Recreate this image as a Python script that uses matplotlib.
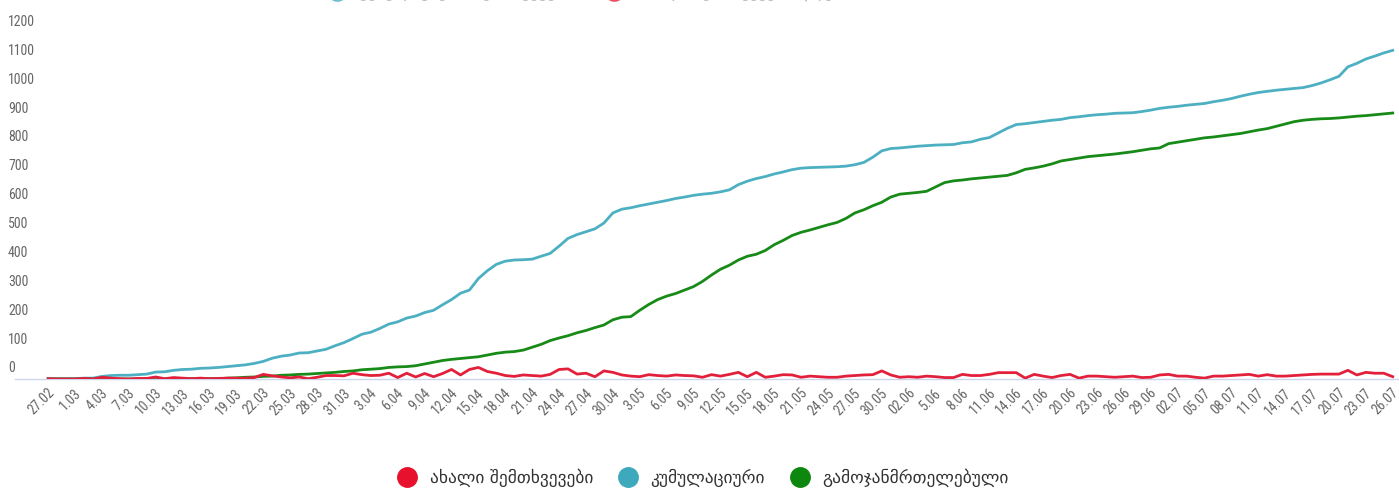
import matplotlib
matplotlib.use("Agg")
import matplotlib.pyplot as plt
from matplotlib.lines import Line2D
from matplotlib.transforms import ScaledTranslation
from matplotlib import font_manager

# Georgia COVID-19, daily series 27.02 - 26.07
new_cases = [1, 0, 0, 0, 2, 0, 6, 3, 1, 0, 2, 2, 7, 1, 5, 3, 1, 3, 1, 2,
             3, 3, 3, 5, 16, 11, 7, 4, 7, 1, 6, 12, 12, 11, 20, 15, 12, 13, 20, 5,
             20, 7, 19, 8, 19, 33, 14, 33, 40, 26, 20, 12, 9, 14, 12, 10, 16, 33, 35, 17,
             20, 8, 28, 23, 14, 10, 8, 15, 12, 10, 14, 12, 11, 6, 15, 10, 16, 23, 8, 23,
             6, 10, 15, 14, 6, 10, 8, 6, 6, 10, 12, 14, 15, 28, 14, 6, 8, 6, 10, 8,
             5, 5, 16, 12, 12, 16, 22, 22, 22, 3, 16, 10, 5, 12, 16, 3, 10, 10, 8, 6,
             8, 10, 5, 6, 14, 16, 10, 10, 6, 3, 10, 10, 12, 14, 16, 10, 15, 10, 10, 12,
             14, 16, 17, 17, 17, 30, 14, 23, 20, 20, 8]

cumulative = [1, 1, 1, 1, 3, 3, 9, 12, 13, 13, 15, 17, 24, 25, 30, 33, 34, 37, 38, 40,
              43, 46, 49, 54, 61, 72, 79, 83, 90, 91, 97, 103, 115, 126, 140, 155, 162, 175, 190, 198,
              211, 218, 230, 238, 257, 275, 297, 308, 348, 375, 397, 408, 412, 413, 415, 425, 435, 460, 487, 500,
              510, 520, 540, 575, 588, 593, 600, 606, 612, 618, 625, 630, 636, 640, 643, 648, 655, 673, 685, 694,
              701, 710, 717, 725, 730, 732, 733, 734, 735, 737, 742, 750, 768, 790, 798, 800, 803, 806, 808, 810,
              811, 812, 818, 821, 830, 836, 852, 868, 881, 884, 888, 892, 896, 899, 905, 908, 912, 915, 917, 920,
              921, 922, 926, 931, 937, 941, 944, 948, 951, 954, 960, 965, 971, 979, 986, 992, 996, 1000, 1003, 1006,
              1009, 1016, 1025, 1036, 1048, 1081, 1093, 1108, 1118, 1129, 1138]

recovered = [0, 0, 0, 0, 0, 0, 0, 0, 0, 0, 0, 0, 0, 0, 0, 0, 1, 1, 1, 1,
             3, 4, 6, 7, 9, 10, 13, 14, 16, 17, 19, 21, 23, 26, 28, 32, 34, 36, 40, 42,
             43, 46, 52, 58, 64, 68, 71, 74, 77, 83, 89, 93, 95, 100, 110, 120, 133, 142, 150, 160,
             168, 178, 187, 205, 214, 216, 238, 258, 275, 287, 296, 308, 320, 338, 360, 380, 394, 412, 425, 432,
             445, 465, 480, 497, 508, 516, 525, 534, 542, 556, 575, 586, 600, 612, 630, 640, 643, 646, 650, 665,
             680, 686, 689, 693, 696, 699, 702, 705, 714, 726, 731, 737, 745, 755, 760, 765, 770, 773, 776, 779,
             783, 787, 792, 797, 800, 815, 820, 825, 830, 835, 838, 842, 846, 850, 856, 862, 867, 875, 883, 891,
             896, 899, 901, 902, 904, 907, 910, 912, 915, 918, 921]

tick_labels = ["27.02", "1.03", "4.03", "7.03", "10.03", "13.03", "16.03", "19.03", "22.03",
               "25.03", "28.03", "31.03", "3.04", "6.04", "9.04", "12.04", "15.04", "18.04",
               "21.04", "24.04", "27.04", "30.04", "3.05", "6.05", "9.05", "12.05", "15.05",
               "18.05", "21.05", "24.05", "27.05", "30.05", "02.06", "5.06", "8.06", "11.06",
               "14.06", "17.06", "20.06", "23.06", "26.06", "29.06", "02.07", "05.07", "08.07",
               "11.07", "14.07", "17.07", "20.07", "23.07", "26.07"]
y_ticks = [0, 100, 200, 300, 400, 500, 600, 700, 800, 900, 1000, 1100, 1200]

series_names = ["ახალი შემთხვევები", "კუმულაციური", "გამოჯანმრთელებული"]
line_colors = ["#e3203c", "#4cb0c2", "#178a17"]
dot_colors = ["#e8112d", "#3ea8bc", "#0e870e"]

# prefer a narrow face for the axis numbers when one is available
installed = {f.name for f in font_manager.fontManager.ttflist}
narrow = [n for n in ["Roboto Condensed", "Open Sans Condensed", "Liberation Sans Narrow",
                      "DejaVu Sans Condensed"] if n in installed]
tick_font = narrow[:1] + ["DejaVu Sans"]
tick_size = 10 if narrow else 8.2

W, H = 1399, 493
fig = plt.figure(figsize=(W / 100, H / 100), dpi=100)
fig.patch.set_facecolor("white")

left_px, right_px, bottom_px, top_px = 15, 1399, 379, 18
ax = fig.add_axes([left_px / W, 1 - bottom_px / H,
                   (right_px - left_px) / W, (bottom_px - top_px) / H])

x = list(range(len(cumulative)))
ax.plot(x, new_cases, color=line_colors[0], lw=2.0, solid_joinstyle="round", zorder=3)
ax.plot(x, cumulative, color=line_colors[1], lw=2.0, solid_joinstyle="round", zorder=2)
ax.plot(x, recovered, color=line_colors[2], lw=2.0, solid_joinstyle="round", zorder=2)

ax.set_xlim(-3.7, 150.7)
ax.set_ylim(0, 1250)
for s in ["top", "right", "left"]:
    ax.spines[s].set_visible(False)
ax.spines["bottom"].set_color("#ccd6eb")
ax.spines["bottom"].set_linewidth(1.0)

ax.set_xticks(list(range(0, len(cumulative), 3)))
ax.set_xticklabels(tick_labels, rotation=45, ha="right", va="top",
                   rotation_mode="anchor", fontsize=tick_size, color="#666666",
                   family=tick_font, fontstretch="condensed")
ax.tick_params(axis="x", length=0, pad=5)
shift_x = ScaledTranslation(-1 / 100, 0, fig.dpi_scale_trans)
for t in ax.get_xticklabels():
    t.set_transform(t.get_transform() + shift_x)

ax.set_yticks(y_ticks)
ax.set_yticklabels([str(v) for v in y_ticks], fontsize=tick_size, color="#666666",
                   family=tick_font, fontstretch="condensed", ha="left")
ax.tick_params(axis="y", length=0, pad=0)
shift_y = ScaledTranslation(-7 / 100, 12 / 100, fig.dpi_scale_trans)
for t in ax.get_yticklabels():
    t.set_transform(t.get_transform() + shift_y)

# legend below the chart
handles = [Line2D([], [], ls="none", marker="o", markersize=14,
                  markerfacecolor=c, markeredgecolor=c) for c in dot_colors]
fig.legend(handles, series_names, loc="center", bbox_to_anchor=(0.5, 1 - 478 / H),
           ncol=3, frameon=False, fontsize=12.5, handletextpad=0.3,
           columnspacing=1.0, labelcolor="#333333")

# header legend, mostly above the visible area
top_handles = [Line2D([], [], ls="none", marker="o", markersize=14,
                      markerfacecolor=c, markeredgecolor=c, alpha=0.6)
               for c in [dot_colors[1], dot_colors[0]]]
fig.legend(top_handles, ["კუმულაციური შემთხვევები", "ახალი შემთხვევები დღეში"],
           loc="center", bbox_to_anchor=(585 / W, 1 + 8 / H), ncol=2, frameon=False,
           fontsize=12, handletextpad=0.3, columnspacing=1.5, labelcolor="#bbbbbb")

fig.savefig("out.png", dpi=100, facecolor="white")
